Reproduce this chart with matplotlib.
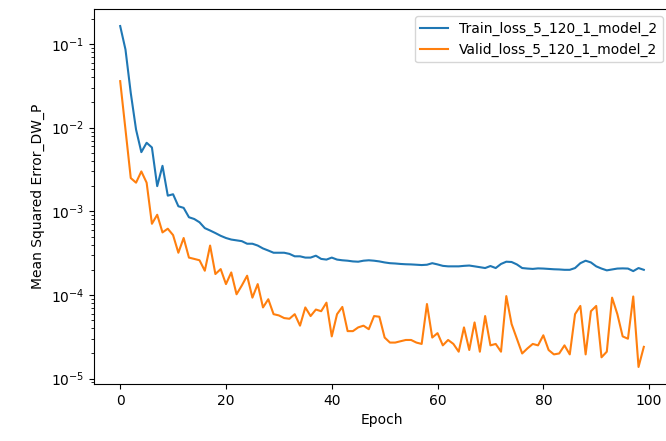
import matplotlib
matplotlib.use("Agg")
import matplotlib.pyplot as plt
import numpy as np

# Per-epoch mean squared error (DW_P) for model 2, run 5_120_1
train_loss = [
    0.164, 0.086, 0.026, 0.0095, 0.0051, 0.0066, 0.0058, 0.0020, 0.0035, 0.00154,
    0.0016, 0.00115, 0.0011, 0.00085, 0.00081, 0.00074, 0.00063, 0.00059, 0.00055, 0.00051,
    0.00048, 0.00046, 0.00045, 0.00044, 0.00041, 0.00041, 0.00039, 0.00036, 0.00034, 0.00032,
    0.00032, 0.00032, 0.00031, 0.00029, 0.00029, 0.00028, 0.00028, 0.000295, 0.00027, 0.000265,
    0.00028, 0.000265, 0.00026, 0.000257, 0.000252, 0.00025, 0.000257, 0.00026, 0.000257, 0.000252,
    0.000245, 0.00024, 0.000238, 0.000235, 0.000233, 0.000232, 0.00023, 0.000228, 0.00023, 0.00024,
    0.000232, 0.000223, 0.00022, 0.00022, 0.00022, 0.000223, 0.000225, 0.00022, 0.000215, 0.00021,
    0.000222, 0.00021, 0.000235, 0.00025, 0.000248, 0.000232, 0.00021, 0.000207, 0.000205, 0.000208,
    0.000207, 0.000205, 0.000203, 0.000202, 0.0002, 0.0002, 0.00021, 0.00024, 0.000257, 0.000245,
    0.00022, 0.000207, 0.000197, 0.000202, 0.000207, 0.000208, 0.000207, 0.000193, 0.00021, 0.0002,
]
valid_loss = [
    0.036, 0.0095, 0.0025, 0.0022, 0.0030, 0.0022, 0.00071, 0.00091, 0.00056, 0.00062,
    0.00052, 0.00032, 0.00048, 0.00028, 0.00027, 0.00026, 0.000195, 0.00039, 0.000178, 0.000204,
    0.000135, 0.000186, 0.000102, 0.00013, 0.00017, 0.000093, 0.000135, 0.000071, 0.000089, 0.000059,
    0.000057, 0.000053, 0.000052, 0.000059, 0.000043, 0.000071, 0.000056, 0.000067, 0.000064, 0.000081,
    0.000032, 0.000059, 0.000072, 0.000037, 0.000037, 0.000041, 0.000043, 0.000039, 0.000056, 0.000055,
    0.000031, 0.000027, 0.000027, 0.000028, 0.000029, 0.000029, 0.000027, 0.000026, 0.000078, 0.000031,
    0.000035, 0.000025, 0.000029, 0.000026, 0.000021, 0.000041, 0.000022, 0.000047, 0.000021, 0.000056,
    0.000025, 0.000026, 0.000021, 0.000097, 0.000045, 0.000030, 0.000020, 0.000023, 0.000026, 0.000025,
    0.000033, 0.000022, 0.0000195, 0.00002, 0.000025, 0.0000195, 0.000059, 0.000074, 0.0000195, 0.000064,
    0.000074, 0.000018, 0.000021, 0.000093, 0.000059, 0.000032, 0.00003, 0.000096, 0.0000138, 0.000024,
]
epochs = np.arange(len(train_loss))

fig = plt.figure(figsize=(6.66, 4.41), dpi=100)
ax = fig.add_axes([94 / 666, 57 / 441, 576 / 666, 375 / 441])

ax.plot(epochs, train_loss, label="Train_loss_5_120_1_model_2")
ax.plot(epochs, valid_loss, label="Valid_loss_5_120_1_model_2")
ax.set_yscale("log")
ax.set_xlabel("Epoch")
ax.set_ylabel("Mean Squared Error_DW_P")
ax.legend(loc="upper right")

fig.savefig("out.png", dpi=100)
